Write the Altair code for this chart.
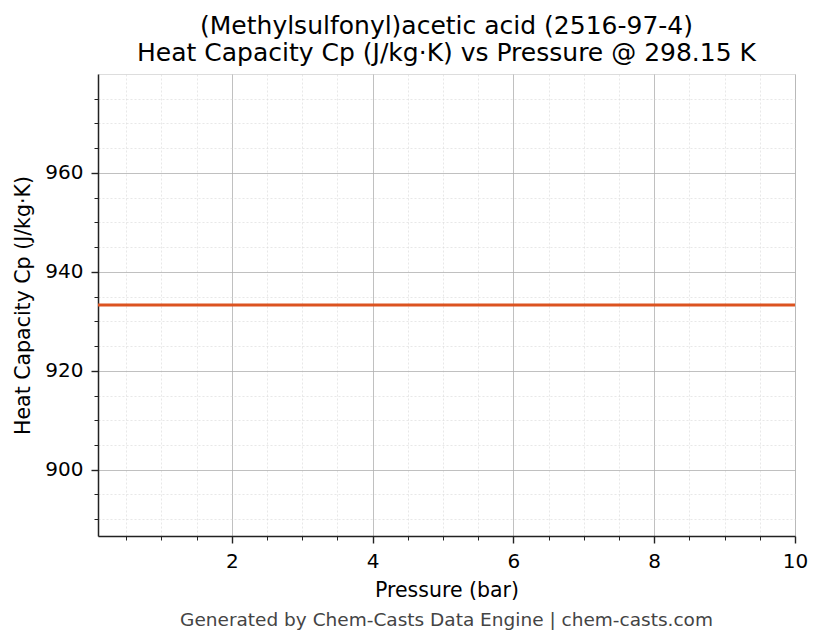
import pandas as pd
import altair as alt

# data
pressure_bar = [0.1, 1.0, 2.0, 3.0, 4.0, 5.0, 6.0, 7.0, 8.0, 9.0, 10.0]
cp_values = [933.3] * len(pressure_bar)

X_DOMAIN = [0.1, 10.0]
Y_DOMAIN = [886.6, 980.0]
X_TICKS = [0.5, 1, 1.5, 2, 2.5, 3, 3.5, 4, 4.5, 5, 5.5, 6,
           6.5, 7, 7.5, 8, 8.5, 9, 9.5, 10]
Y_TICKS = [890, 895, 900, 905, 910, 915, 920, 925, 930, 935, 940, 945,
           950, 955, 960, 965, 970, 975]

TITLE = ["(Methylsulfonyl)acetic acid (2516-97-4)",
         "Heat Capacity Cp (J/kg·K) vs Pressure @ 298.15 K"]
FOOTER = "Generated by Chem-Casts Data Engine | chem-casts.com"

W, H = 697, 462
FONT = "DejaVu Sans"

df = pd.DataFrame({"pressure": pressure_bar, "cp": cp_values})

x_major = "abs(datum.value / 2 - round(datum.value / 2)) < 0.000001"
y_major = "abs(datum.value / 20 - round(datum.value / 20)) < 0.000001"


def axis_for(test, values, title, label_pad, title_pad):
    return alt.Axis(
        values=values,
        title=title,
        labelExpr=f"({test}) ? toString(round(datum.value)) : ''",
        grid=True,
        gridColor={"condition": {"test": test, "value": "#b0b0b0"}, "value": "#d8d8d8"},
        gridDash={"condition": {"test": test, "value": []}, "value": [2, 2]},
        gridWidth={"condition": {"test": test, "value": 0.8}, "value": 0.6},
        tickSize={"condition": {"test": test, "value": 7}, "value": 4},
        tickWidth={"condition": {"test": test, "value": 1.4}, "value": 1},
        tickColor="#222",
        domainColor="#222",
        domainWidth=1.5,
        labelColor="black",
        labelFont=FONT,
        labelFontSize=20,
        labelPadding=label_pad,
        titleFont=FONT,
        titleFontSize=20.5,
        titleFontWeight="normal",
        titleColor="black",
        titlePadding=title_pad,
        labelFlush=False,
        labelOverlap=False,
    )


line = alt.Chart(df).mark_line(color="#dc5320", strokeWidth=3).encode(
    x=alt.X("pressure:Q", scale=alt.Scale(domain=X_DOMAIN, nice=False, zero=False),
            axis=axis_for(x_major, X_TICKS, "Pressure (bar)", 8, 9)),
    y=alt.Y("cp:Q", scale=alt.Scale(domain=Y_DOMAIN, nice=False, zero=False),
            axis=axis_for(y_major, Y_TICKS, "Heat Capacity Cp (J/kg·K)", 8, 11)),
)

footer = alt.Chart(pd.DataFrame({"text": [FOOTER]})).mark_text(
    align="center", baseline="middle", font=FONT, fontSize=18.5, color="#444444"
).encode(
    text="text:N",
    x=alt.value(W / 2),
    y=alt.value(H + 84),
)

chart = (
    alt.layer(line, footer)
    .properties(
        width=W,
        height=H,
        autosize=alt.AutoSizeParams(type="none"),
        padding={"left": 90, "top": 66, "right": 20, "bottom": 95},
        title=alt.TitleParams(
            text=TITLE,
            font=FONT,
            fontSize=25,
            fontWeight="normal",
            color="black",
            anchor="middle",
            lineHeight=27,
            offset=8,
        ),
    )
    .configure_view(stroke="#222", strokeWidth=1.5)
    .configure(background="white")
)

chart.save("out.html", embed_options={"renderer": "svg", "actions": False})
